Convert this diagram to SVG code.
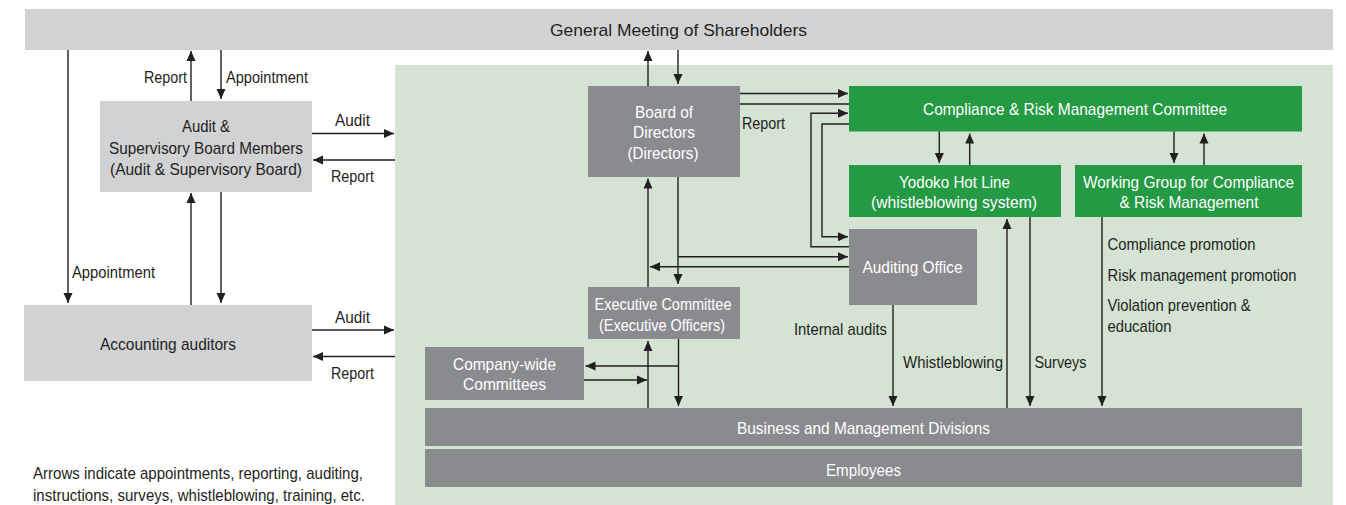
<svg xmlns="http://www.w3.org/2000/svg" width="1346" height="505" viewBox="0 0 1346 505">
<style>
text{font-family:"Liberation Sans Narrow","Liberation Sans",Arial,sans-serif;font-size:17px;fill:#231f20}
.w{fill:#ffffff}
.c{text-anchor:middle}
.lg{fill:#d1d2d4}
.dg{fill:#8a8b8f}
.gr{fill:#239a43}
.ln{stroke:#231f20;stroke-width:1.4;fill:none}
.ar{marker-end:url(#ah)}
</style>
<defs>
<marker id="ah" markerUnits="userSpaceOnUse" markerWidth="10" markerHeight="10" viewBox="0 0 10 10" refX="10" refY="5" orient="auto">
<path d="M0,0.5 L10,5 L0,9.5 z" fill="#231f20"/>
</marker>
</defs>
<rect x="0" y="0" width="1346" height="505" fill="#ffffff"/>
<rect id="green-area" x="395" y="65" width="938" height="440" fill="#d4e3d4"/>

<g id="shareholders">
<rect class="lg" x="25" y="9" width="1308" height="41"/>
<text x="678.5" y="36" class="c" textLength="257" lengthAdjust="spacingAndGlyphs">General Meeting of Shareholders</text>
</g>
<g id="audit-board">
<rect class="lg" x="100" y="101" width="212" height="91"/>
<text x="206" y="132" class="c" textLength="48" lengthAdjust="spacingAndGlyphs">Audit &amp;</text>
<text x="206" y="153.5" class="c" textLength="194" lengthAdjust="spacingAndGlyphs">Supervisory Board Members</text>
<text x="206" y="175" class="c" textLength="192" lengthAdjust="spacingAndGlyphs">(Audit &amp; Supervisory Board)</text>
</g>
<g id="accounting-auditors">
<rect class="lg" x="24" y="305" width="288" height="76"/>
<text x="168" y="350" class="c" textLength="136" lengthAdjust="spacingAndGlyphs">Accounting auditors</text>
</g>
<g id="board">
<rect class="dg" x="588" y="86" width="152" height="91"/>
<text x="664" y="117.5" class="c w" textLength="58" lengthAdjust="spacingAndGlyphs">Board of</text>
<text x="664" y="138" class="c w" textLength="62" lengthAdjust="spacingAndGlyphs">Directors</text>
<text x="663" y="158.5" class="c w" textLength="71" lengthAdjust="spacingAndGlyphs">(Directors)</text>
</g>
<g id="executive-committee">
<rect class="dg" x="588" y="287" width="152" height="52"/>
<text x="663" y="310" class="c w" textLength="137" lengthAdjust="spacingAndGlyphs">Executive Committee</text>
<text x="662" y="331" class="c w" textLength="126" lengthAdjust="spacingAndGlyphs">(Executive Officers)</text>
</g>
<g id="company-wide">
<rect class="dg" x="425" y="347" width="159" height="53"/>
<text x="504.5" y="370" class="c w" textLength="103" lengthAdjust="spacingAndGlyphs">Company-wide</text>
<text x="504.5" y="390" class="c w" textLength="83" lengthAdjust="spacingAndGlyphs">Committees</text>
</g>
<g id="crm-committee">
<rect class="gr" x="849" y="86" width="453" height="45.5"/>
<text x="1075" y="115" class="c w" textLength="304" lengthAdjust="spacingAndGlyphs">Compliance &amp; Risk Management Committee</text>
</g>
<g id="hotline">
<rect class="gr" x="849" y="165" width="212" height="52"/>
<text x="954.5" y="187.5" class="c w" textLength="111" lengthAdjust="spacingAndGlyphs">Yodoko Hot Line</text>
<text x="954" y="208" class="c w" textLength="166" lengthAdjust="spacingAndGlyphs">(whistleblowing system)</text>
</g>
<g id="working-group">
<rect class="gr" x="1075" y="165" width="227" height="52"/>
<text x="1188.5" y="187.5" class="c w" textLength="211" lengthAdjust="spacingAndGlyphs">Working Group for Compliance</text>
<text x="1189" y="208" class="c w" textLength="139" lengthAdjust="spacingAndGlyphs">&amp; Risk Management</text>
</g>
<g id="auditing-office">
<rect class="dg" x="849" y="229" width="128" height="76"/>
<text x="912.5" y="273" class="c w" textLength="100" lengthAdjust="spacingAndGlyphs">Auditing Office</text>
</g>
<g id="business-divisions">
<rect class="dg" x="425" y="408" width="877" height="38"/>
<text x="863.5" y="434" class="c w" textLength="253" lengthAdjust="spacingAndGlyphs">Business and Management Divisions</text>
</g>
<g id="employees">
<rect class="dg" x="425" y="449" width="877" height="38"/>
<text x="863.5" y="476" class="c w" textLength="75" lengthAdjust="spacingAndGlyphs">Employees</text>
</g>

<g id="connectors">
<path class="ln ar" d="M68,50 V303"/>
<path class="ln ar" d="M191,101 V51"/>
<path class="ln ar" d="M221,50 V99"/>
<path class="ln ar" d="M191,305 V193"/>
<path class="ln ar" d="M221,192 V303"/>
<path class="ln ar" d="M312,133.5 H394"/>
<path class="ln ar" d="M395,160 H313"/>
<path class="ln ar" d="M312,330 H394"/>
<path class="ln ar" d="M395,356.5 H313"/>

<path class="ln ar" d="M648,86 V51"/>
<path class="ln ar" d="M678,50 V84"/>
<path class="ln ar" d="M740,93.5 H848"/>
<path class="ln" d="M740,104 H849"/>
<path class="ln ar" d="M849,246.7 H811 V113.3 H848"/>
<path class="ln ar" d="M849,124 H822 V236.7 H848"/>
<path class="ln ar" d="M678,177 V284"/>
<path class="ln ar" d="M678,256.7 H848"/>
<path class="ln ar" d="M849,266.7 H650"/>
<path class="ln ar" d="M648,287 V178.5"/>

<path class="ln ar" d="M648,408 V341"/>
<path class="ln ar" d="M678.5,339 V406"/>
<path class="ln ar" d="M678.5,366 H585.5"/>
<path class="ln ar" d="M584,380 H647"/>

<path class="ln ar" d="M893,305 V406"/>
<path class="ln ar" d="M939.3,131.5 V163"/>
<path class="ln ar" d="M969.7,165 V133.5"/>
<path class="ln ar" d="M1174,131.5 V163"/>
<path class="ln ar" d="M1204,165 V133.5"/>
<path class="ln ar" d="M1007,408 V219"/>
<path class="ln ar" d="M1030,217 V406"/>
<path class="ln ar" d="M1102,217 V406"/>
</g>

<g id="labels">
<text x="187" y="83" text-anchor="end" textLength="43" lengthAdjust="spacingAndGlyphs">Report</text>
<text x="226" y="83" textLength="82" lengthAdjust="spacingAndGlyphs">Appointment</text>
<text x="335" y="126" textLength="35" lengthAdjust="spacingAndGlyphs">Audit</text>
<text x="331" y="181.5" textLength="43" lengthAdjust="spacingAndGlyphs">Report</text>
<text x="72" y="278" textLength="83" lengthAdjust="spacingAndGlyphs">Appointment</text>
<text x="335" y="323" textLength="35" lengthAdjust="spacingAndGlyphs">Audit</text>
<text x="331" y="378.5" textLength="43" lengthAdjust="spacingAndGlyphs">Report</text>
<text x="742" y="129" textLength="43" lengthAdjust="spacingAndGlyphs">Report</text>
<text x="794" y="335" textLength="93" lengthAdjust="spacingAndGlyphs">Internal audits</text>
<text x="903" y="368.3" textLength="100" lengthAdjust="spacingAndGlyphs">Whistleblowing</text>
<text x="1034.5" y="368.3" textLength="52" lengthAdjust="spacingAndGlyphs">Surveys</text>
<text x="1107.5" y="250" textLength="148" lengthAdjust="spacingAndGlyphs">Compliance promotion</text>
<text x="1107.5" y="280.7" textLength="189" lengthAdjust="spacingAndGlyphs">Risk management promotion</text>
<text x="1107.5" y="311" textLength="143" lengthAdjust="spacingAndGlyphs">Violation prevention &amp;</text>
<text x="1107.5" y="331.7" textLength="64" lengthAdjust="spacingAndGlyphs">education</text>
<text x="33" y="479.3" textLength="330" lengthAdjust="spacingAndGlyphs">Arrows indicate appointments, reporting, auditing,</text>
<text x="33" y="500.7" textLength="332" lengthAdjust="spacingAndGlyphs">instructions, surveys, whistleblowing, training, etc.</text>
</g>
</svg>
